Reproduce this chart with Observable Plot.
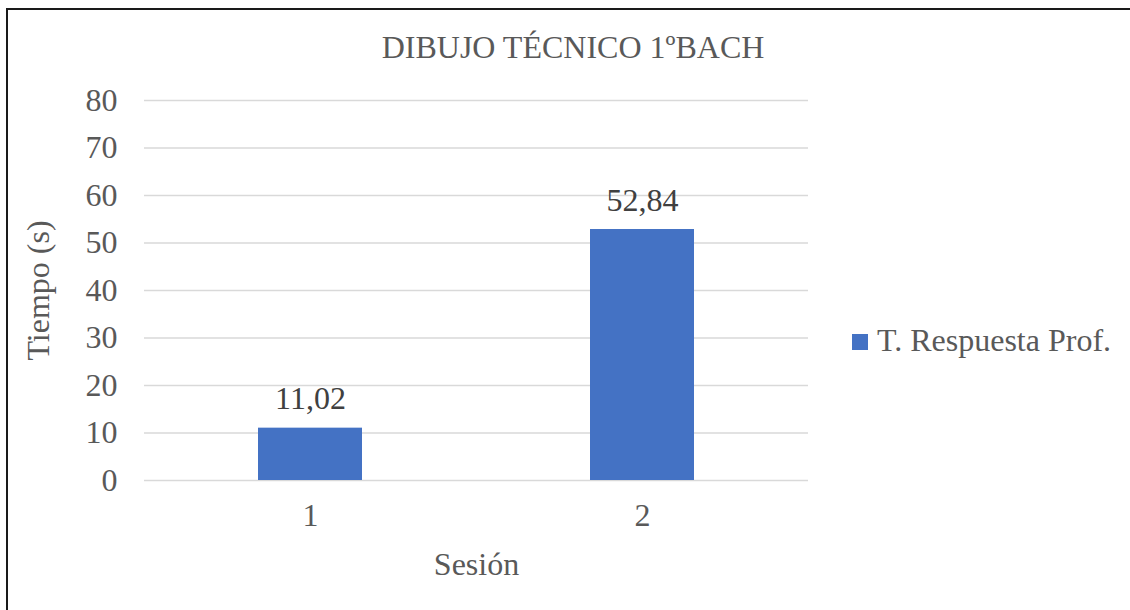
<!DOCTYPE html>
<html>
<head>
<meta charset="utf-8">
<script src="https://cdn.jsdelivr.net/npm/d3@7"></script>
<script src="https://cdn.jsdelivr.net/npm/@observablehq/plot@0.6"></script>
<style>
  html, body { margin: 0; padding: 0; overflow: hidden; background: #fff; }
  #wrap { position: relative; width: 1130px; height: 610px; overflow: hidden; }
  #border { position: absolute; left: 6px; top: 8px; width: 1200px; height: 700px;
            border-top: 2px solid #1a1a1a; border-left: 2px solid #1a1a1a; z-index: 5; pointer-events: none; }
  .txt { position: absolute; font-family: "Liberation Serif", "Times New Roman", serif; font-size: 32px;
         line-height: 32px; color: #595959; white-space: nowrap; }
  #title { left: 0; width: 1146px; text-align: center; top: 31px; }
  #legend { left: 852px; top: 324px; }
  #legend .sw { display: inline-block; width: 16px; height: 16px; background: #4472C4; margin-right: 9px; vertical-align: 1px; }
  #chart { position: absolute; left: 0; top: 0; }
</style>
</head>
<body>
<div id="wrap">
  <div id="border"></div>
  <div id="chart"></div>
  <div class="txt" id="title"></div>
  <div class="txt" id="legend"><span class="sw"></span><span id="legtext"></span></div>
</div>
<script>
const titleText = "DIBUJO TÉCNICO 1ºBACH";
const seriesName = "T. Respuesta Prof.";
const sessions = ["1", "2"];
const times = [11.02, 52.84];
const yTicks = [0, 10, 20, 30, 40, 50, 60, 70, 80];
const xLabel = "Sesión";
const yLabel = "Tiempo (s)";

const data = sessions.map((s, i) => ({session: s, time: times[i]}));
const fmt = v => v.toFixed(2).replace(".", ",");

document.getElementById("title").textContent = titleText;
document.getElementById("legtext").textContent = seriesName;

const chart = Plot.plot({
  width: 1130,
  height: 610,
  marginLeft: 144,
  marginRight: 322,
  marginTop: 100,
  marginBottom: 130,
  style: {fontFamily: "'Liberation Serif', 'Times New Roman', serif", fontSize: "32px", color: "#595959", background: "transparent", overflow: "visible"},
  x: {domain: sessions, paddingInner: 0.686, paddingOuter: 0.343},
  y: {domain: [0, 80]},
  marks: [
    Plot.gridY(yTicks, {stroke: "#d9d9d9", strokeOpacity: 1, strokeWidth: 1.5}),
    Plot.barY(data, {x: "session", y: "time", fill: "#4472C4"}),
    Plot.text(data, {x: "session", y: "time", text: d => fmt(d.time), lineAnchor: "bottom", dy: -19, fill: "#404040", fontSize: 32}),
    Plot.axisY({ticks: yTicks, tickSize: 0, tickPadding: 27, label: yLabel, labelAnchor: "center", labelOffset: 118, labelArrow: "none", fill: "#595959"}),
    Plot.axisX({tickSize: 0, tickPadding: 23, label: xLabel, labelAnchor: "center", labelOffset: 94, labelArrow: "none", fill: "#595959"})
  ]
});
document.getElementById("chart").appendChild(chart);
</script>
</body>
</html>
